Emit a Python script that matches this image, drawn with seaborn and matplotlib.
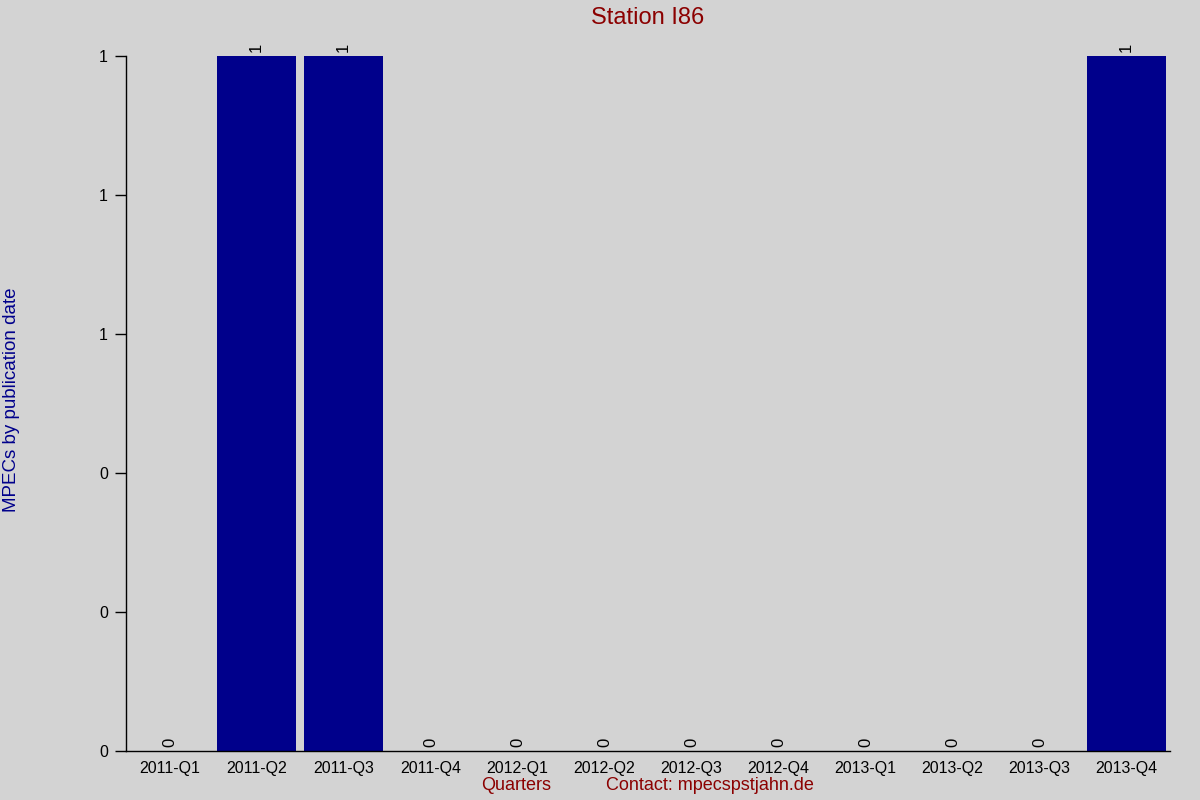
import matplotlib
matplotlib.use("Agg")
import matplotlib.pyplot as plt
import seaborn as sns
import pandas as pd
from matplotlib.ticker import FuncFormatter

quarters = ["2011-Q1", "2011-Q2", "2011-Q3", "2011-Q4", "2012-Q1", "2012-Q2",
            "2012-Q3", "2012-Q4", "2013-Q1", "2013-Q2", "2013-Q3", "2013-Q4"]
counts = [0, 1, 1, 0, 0, 0, 0, 0, 0, 0, 0, 1]

df = pd.DataFrame({"quarter": quarters, "count": counts})

sns.set_theme(style="white")
plt.rcParams['font.family'] = ['Liberation Sans', 'DejaVu Sans']

bg = "#d3d3d3"
fig = plt.figure(figsize=(12, 8), dpi=100, facecolor=bg)
ax = fig.add_axes([0.105, 0.06125, 0.87, 0.86875])
ax.set_facecolor(bg)

sns.barplot(data=df, x="quarter", y="count", color="#00008b", saturation=1,
            width=0.9, linewidth=0, ax=ax)
for c in ax.containers:
    ax.bar_label(c, labels=[str(v) for v in counts], rotation=90, padding=3,
                 fontsize=12, color="black")

ax.set_xlim(-0.5, len(quarters) - 0.5)
ax.set_ylim(0, 1)
ax.set_yticks([0, 0.2, 0.4, 0.6, 0.8, 1.0])
ax.yaxis.set_major_formatter(FuncFormatter(lambda v, p: f"{v:.0f}"))
ax.tick_params(axis="y", left=True, length=8, width=1, color="black",
               labelsize=11.5, labelcolor="black", pad=5)
ax.tick_params(axis="x", bottom=False, labelsize=11.5, labelcolor="black", pad=1)
for s in ["top", "right"]:
    ax.spines[s].set_visible(False)
for s in ["left", "bottom"]:
    ax.spines[s].set_color("black")
    ax.spines[s].set_linewidth(1)
ax.set_xlabel("")
ax.set_ylabel("")

fig.text(0.54, 0.977, "Station I86", ha="center", va="center",
         fontsize=17, color="#8b0000")
fig.text(0.0095, 0.5, "MPECs by publication date", rotation=90, ha="center",
         va="center", fontsize=13.5, color="#00008b")
fig.text(0.43, 0.018, "Quarters", ha="center", va="center",
         fontsize=13, color="#8b0000")
fig.text(0.592, 0.018, "Contact: mpecspstjahn.de", ha="center", va="center",
         fontsize=13, color="#8b0000")

fig.savefig("out.png", dpi=100, facecolor=bg)
